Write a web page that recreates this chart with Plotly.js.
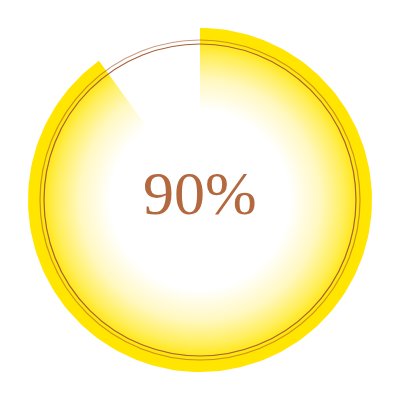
<!DOCTYPE html>
<html>
<head>
<meta charset="utf-8">
<script src="https://cdn.plot.ly/plotly-3.0.1.min.js"></script>
<style>
  html, body { margin: 0; padding: 0; background: #ffffff; }
  #chart { width: 400px; height: 400px; }
</style>
</head>
<body>
<div id="chart"></div>
<script>
// progress value shown by the ring (percent of a full turn)
const progressValue = [90];
const progressLabel = ["90%"];

const YELLOW = "#FFE500";
const BROWN = "#b3693d";

const OUTER_R = 0.86;     // yellow disc edge, in axis units (axis spans -1..1)
const RING_OUTER = 0.80;  // brown double line
const RING_INNER = 0.78;

// wedge outline: start at 12 o'clock and run clockwise for value% of the turn
function wedgePath(percent, radius) {
  const sweep = (percent / 100) * 2 * Math.PI;
  const steps = 180;
  const x = [0];
  const y = [0];
  for (let i = 0; i <= steps; i++) {
    const a = (sweep * i) / steps;
    x.push(radius * Math.sin(a));
    y.push(radius * Math.cos(a));
  }
  x.push(0);
  y.push(0);
  return { x, y };
}

const wedge = wedgePath(progressValue[0], OUTER_R);

function ringShape(r, color, width) {
  return {
    type: "circle",
    xref: "x",
    yref: "y",
    x0: -r,
    x1: r,
    y0: -r,
    y1: r,
    line: { color, width },
    layer: "above",
  };
}

Plotly.newPlot(
  "chart",
  [
    {
      type: "scatter",
      mode: "lines",
      x: wedge.x,
      y: wedge.y,
      fill: "toself",
      line: { width: 0, color: YELLOW },
      fillgradient: {
        type: "radial",
        colorscale: [
          [0, "#ffffff"],
          [0.52, "#ffffff"],
          [0.7, "#fff8c0"],
          [0.84, "#ffee5a"],
          [0.93, YELLOW],
          [1, YELLOW],
        ],
      },
      hoverinfo: "skip",
    },
  ],
  {
    width: 400,
    height: 400,
    margin: { l: 0, r: 0, t: 0, b: 0 },
    paper_bgcolor: "#ffffff",
    plot_bgcolor: "#ffffff",
    xaxis: { range: [-1, 1], visible: false, fixedrange: true },
    yaxis: { range: [-1, 1], visible: false, fixedrange: true },
    showlegend: false,
    shapes: [
      ringShape(RING_OUTER, "rgba(170, 90, 50, 0.6)", 1.2),
      ringShape(RING_INNER, "#a85f34", 1.2),
    ],
    annotations: [
      {
        x: 0,
        y: 0,
        xref: "x",
        yref: "y",
        text: progressLabel[0],
        showarrow: false,
        yshift: 7,
        font: { family: "Liberation Serif, DejaVu Serif, serif", size: 62, color: BROWN },
      },
    ],
  },
  { displayModeBar: false, staticPlot: true }
);
</script>
</body>
</html>
